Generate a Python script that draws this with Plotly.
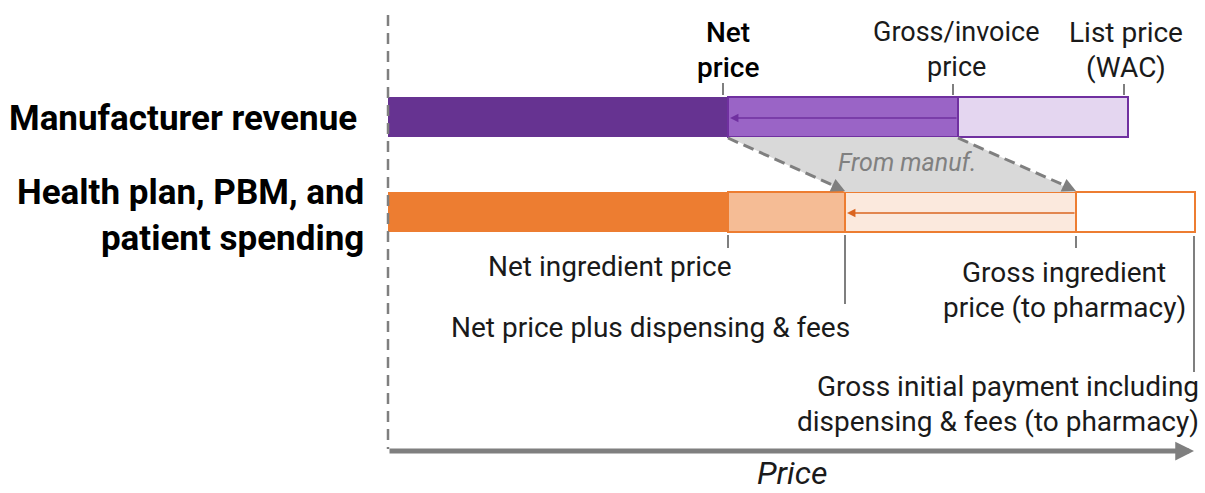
import plotly.graph_objects as go

# ---- data (relative price units) ----
row_labels = ["Manufacturer revenue", "Health plan, PBM, and<br>patient spending"]
manuf_labels = ["Net price", "Gross/invoice price", "List price (WAC)"]
manuf_values = [34.0, 57.0, 74.0]          # net price, gross/invoice, list (WAC)
plan_labels = ["Net ingredient price", "Net price plus dispensing & fees",
               "Gross ingredient price (to pharmacy)",
               "Gross initial payment including dispensing & fees (to pharmacy)"]
plan_values = [34.0, 45.7, 68.8, 80.7]
axis_label = "Price"
flow_label = "From manuf."

# ---- styling ----
FONT = "Roboto"
GRAY = "#7F7F7F"
PURPLE = "#7030A0"
ORANGE = "#ED7D31"
manuf_fills = ["#663391", "#9A64C6", "#E4D6F0"]
plan_fills = ["#ED7D31", "#F5BC95", "#FBE9DD", "#FFFFFF"]

Y_TOP, Y_BOT, BAR_W = 117, 212, 40
top_lo, top_hi = Y_TOP + BAR_W / 2, Y_TOP - BAR_W / 2
bot_lo, bot_hi = Y_BOT + BAR_W / 2, Y_BOT - BAR_W / 2

fig = go.Figure()

# gray "from manufacturer" band
fig.add_trace(go.Scatter(
    x=[manuf_values[0], manuf_values[1], plan_values[2], plan_values[1], manuf_values[0]],
    y=[top_lo, top_lo, bot_hi, bot_hi, top_lo],
    fill="toself", fillcolor="#D9D9D9", line=dict(width=0), mode="lines",
    hoverinfo="skip", showlegend=False))

# dashed edges
for x0, x1 in [(manuf_values[0], plan_values[1]), (manuf_values[1], plan_values[2])]:
    fig.add_trace(go.Scatter(x=[x0, x1 - 0.35], y=[top_lo + 1, bot_hi - 3],
                             mode="lines", line=dict(color=GRAY, width=3, dash="11px,6px"),
                             hoverinfo="skip", showlegend=False))
    fig.add_annotation(x=x1, y=bot_hi - 1, ax=x1 - 1.2, ay=bot_hi - 6.6,
                       axref="x", ayref="y", xref="x", yref="y", text="",
                       showarrow=True, arrowhead=2, arrowsize=1.1, arrowwidth=2.5,
                       arrowcolor=GRAY)

# bars
starts = [0] + manuf_values[:-1]
for i, (s, e) in enumerate(zip(starts, manuf_values)):
    fig.add_trace(go.Bar(
        y=[Y_TOP], x=[e - s], base=[s], orientation="h", width=BAR_W,
        marker=dict(color=manuf_fills[i],
                    line=dict(color=PURPLE if i > 0 else manuf_fills[0], width=2 if i > 0 else 0)),
        hoverinfo="skip", showlegend=False))
starts = [0] + plan_values[:-1]
for i, (s, e) in enumerate(zip(starts, plan_values)):
    fig.add_trace(go.Bar(
        y=[Y_BOT], x=[e - s], base=[s], orientation="h", width=BAR_W,
        marker=dict(color=plan_fills[i],
                    line=dict(color=ORANGE if i > 0 else plan_fills[0], width=2 if i > 0 else 0)),
        hoverinfo="skip", showlegend=False))

# internal arrows
fig.add_annotation(x=manuf_values[0] + 0.2, y=Y_TOP + 1, ax=manuf_values[1], ay=Y_TOP + 1,
                   axref="x", ayref="y", text="", showarrow=True, arrowhead=2,
                   arrowsize=1.3, arrowwidth=1.3, arrowcolor=PURPLE)
fig.add_annotation(x=plan_values[1] + 0.2, y=Y_BOT + 1, ax=plan_values[2], ay=Y_BOT + 1,
                   axref="x", ayref="y", text="", showarrow=True, arrowhead=2,
                   arrowsize=1.3, arrowwidth=1.3, arrowcolor="#DA6520")

# ticks
tick_specs = [(manuf_values[0] - 0.5, 83, 95), (manuf_values[1] - 0.5, 84, 95),
              (manuf_values[2] - 0.4, 84, 95),
              (plan_values[0], 235, 248), (plan_values[1], 235, 304),
              (plan_values[2], 236, 248), (plan_values[3] - 0.1, 236, 372)]
for x, y0, y1 in tick_specs:
    fig.add_trace(go.Scatter(x=[x, x], y=[y0, y1], mode="lines",
                             line=dict(color=GRAY, width=2), hoverinfo="skip", showlegend=False))

# vertical dashed axis
fig.add_trace(go.Scatter(x=[0, 0], y=[15, 449], mode="lines",
                         line=dict(color=GRAY, width=2.5, dash="11px,7px"),
                         hoverinfo="skip", showlegend=False))
# horizontal price axis arrow
fig.add_annotation(x=80.6, y=451, ax=0, ay=451, axref="x", ayref="y", text="",
                   showarrow=True, arrowhead=2, arrowsize=0.75, arrowwidth=5, arrowcolor=GRAY)

def txt(x, y, s, size=28, anchor="center", weight="normal", style="normal",
        color="#1a1a1a", family=FONT, align="center"):
    fig.add_annotation(x=x, y=y, text=s, showarrow=False, xanchor=anchor, yanchor="middle",
                       align=align, borderpad=0,
                       font=dict(family=family, size=size, color=color, weight=weight, style=style))

# top labels
txt(manuf_values[0], 32, "Net", weight=500, color="#000")
txt(manuf_values[0], 67, "price", weight=500, color="#000")
txt(manuf_values[1] - 0.2, 32, "Gross/invoice", size=27)
txt(manuf_values[1] - 0.2, 67, "price", size=27)
txt(manuf_values[2] - 0.2, 32, "List price")
txt(manuf_values[2] - 0.2, 67, "(WAC)")

# row labels
txt(-3.0, 118, row_labels[0], size=35, anchor="right", weight="bold", color="#000")
txt(-2.3, 215, row_labels[1], size=35, anchor="right", weight="bold", color="#000", align="right")

# bottom labels
txt(plan_values[0] + 0.5, 266, plan_labels[0], anchor="right")
txt(plan_values[1] - 19.5, 327, plan_labels[1])
txt(plan_values[2] - 1.2, 272, "Gross ingredient")
txt(plan_values[2] - 1.2, 307, "price (to pharmacy)")
txt(plan_values[3] + 0.5, 386, "Gross initial payment including", anchor="right")
txt(plan_values[3] + 0.5, 421, "dispensing & fees (to pharmacy)", anchor="right")

# flow label & axis title
txt(51.9, 162, flow_label, size=25, style="italic", color="#808080")
txt(40.4, 473, axis_label, size=32, style="italic", color="#1a1a1a")

fig.update_layout(
    width=1205, height=493, margin=dict(l=0, r=0, t=0, b=0),
    paper_bgcolor="white", plot_bgcolor="white", barmode="overlay",
    xaxis=dict(range=[-38.8, 81.7], visible=False, fixedrange=True),
    yaxis=dict(range=[493, 0], visible=False, fixedrange=True),
    showlegend=False)

fig.write_html("out.html", config={"displayModeBar": False},
               post_script="document.body.style.margin='0';document.body.style.overflow='hidden';")
